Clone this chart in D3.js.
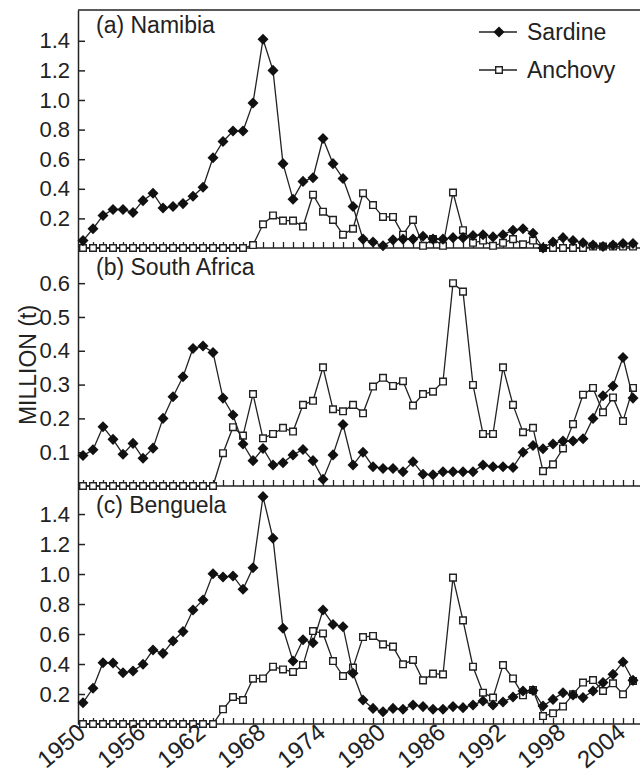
<!DOCTYPE html>
<html>
<head>
<meta charset="utf-8">
<script src="https://cdn.jsdelivr.net/npm/d3@7/dist/d3.min.js"></script>
<style>
  body { margin: 0; background: #fff; }
  text { font-family: "Liberation Sans", Arial, sans-serif; fill: #222; }
</style>
</head>
<body>
<div id="chart"></div>
<script>
// years on the x axis, one point per year
var years = d3.range(1950, 2006);
var labelYears = [1950, 1956, 1962, 1968, 1974, 1980, 1986, 1992, 1998, 2004];

// catches in million tonnes, 1950-2005
var namibiaSardine = [0.05, 0.13, 0.22, 0.26, 0.26, 0.24, 0.32, 0.37, 0.27, 0.28,
	0.30, 0.35, 0.41, 0.61, 0.72, 0.79, 0.79, 0.98, 1.41, 1.20,
	0.57, 0.33, 0.45, 0.475, 0.74, 0.57, 0.47, 0.28, 0.06, 0.04,
	0.015, 0.055, 0.06, 0.06, 0.08, 0.06, 0.06, 0.07, 0.07, 0.085,
	0.09, 0.075, 0.09, 0.12, 0.13, 0.10, 0.0, 0.04, 0.07, 0.05,
	0.035, 0.02, 0.01, 0.02, 0.03, 0.03];
var namibiaAnchovy = [0, 0, 0, 0, 0, 0, 0, 0, 0, 0,
	0, 0, 0, 0, 0, 0, 0, 0.02, 0.16, 0.22,
	0.185, 0.185, 0.145, 0.36, 0.245, 0.19, 0.09, 0.13, 0.37, 0.29,
	0.21, 0.21, 0.09, 0.19, 0.015, 0.06, 0.015, 0.375, 0.12, 0.035,
	0.05, 0.015, 0.035, 0.06, 0.025, 0.05, 0.0, 0.0, 0.0, 0.0,
	0.0, 0.01, 0.01, 0.01, 0.01, 0.01];
var southAfricaSardine = [0.09, 0.107, 0.175, 0.138, 0.094, 0.126, 0.082, 0.112, 0.20, 0.264,
	0.323, 0.407, 0.414, 0.395, 0.26, 0.21, 0.124, 0.075, 0.111, 0.062,
	0.069, 0.092, 0.108, 0.075, 0.02, 0.092, 0.182, 0.062, 0.10, 0.057,
	0.052, 0.052, 0.042, 0.072, 0.035, 0.033, 0.042, 0.042, 0.042, 0.042,
	0.062, 0.057, 0.057, 0.055, 0.10, 0.12, 0.11, 0.124, 0.133, 0.133,
	0.14, 0.20, 0.267, 0.296, 0.38, 0.26];
var southAfricaAnchovy = [0, 0, 0, 0, 0, 0, 0, 0, 0, 0,
	0, 0, 0, 0, 0.097, 0.174, 0.149, 0.272, 0.141, 0.154,
	0.172, 0.161, 0.24, 0.252, 0.351, 0.227, 0.221, 0.24, 0.215, 0.294,
	0.32, 0.296, 0.31, 0.238, 0.272, 0.279, 0.309, 0.60, 0.575, 0.299,
	0.154, 0.154, 0.351, 0.24, 0.159, 0.172, 0.044, 0.064, 0.111, 0.183,
	0.27, 0.29, 0.218, 0.262, 0.192, 0.29];
var benguelaSardine = [0.142, 0.238, 0.409, 0.407, 0.342, 0.353, 0.398, 0.493, 0.471, 0.553,
	0.616, 0.76, 0.827, 1.002, 0.98, 0.987, 0.898, 1.042, 1.516, 1.238,
	0.638, 0.42, 0.562, 0.542, 0.76, 0.664, 0.649, 0.338, 0.16, 0.104,
	0.082, 0.104, 0.098, 0.127, 0.116, 0.098, 0.098, 0.116, 0.109, 0.127,
	0.153, 0.127, 0.147, 0.18, 0.22, 0.224, 0.12, 0.164, 0.209, 0.193,
	0.176, 0.22, 0.276, 0.331, 0.413, 0.291];
var benguelaAnchovy = [0, 0, 0, 0, 0, 0, 0, 0, 0, 0,
	0, 0, 0, 0, 0.098, 0.18, 0.16, 0.302, 0.304, 0.382,
	0.364, 0.347, 0.393, 0.62, 0.604, 0.42, 0.32, 0.376, 0.58, 0.587,
	0.531, 0.516, 0.398, 0.427, 0.291, 0.336, 0.331, 0.976, 0.691, 0.382,
	0.209, 0.176, 0.393, 0.304, 0.191, 0.227, 0.053, 0.071, 0.116, 0.198,
	0.276, 0.293, 0.22, 0.271, 0.198, 0.287];

var panelTitles = ['(a) Namibia', '(b) South Africa', '(c) Benguela'];
var panelMax = [1.608, 0.704, 1.587];
var panelTicks = [[0.2, 0.4, 0.6, 0.8, 1.0, 1.2, 1.4],
	[0.1, 0.2, 0.3, 0.4, 0.5, 0.6],
	[0.2, 0.4, 0.6, 0.8, 1.0, 1.2, 1.4]];
var legendNames = ['Sardine', 'Anchovy'];

var panels = [
	{ title: panelTitles[0], sardine: namibiaSardine, anchovy: namibiaAnchovy, max: panelMax[0], ticks: panelTicks[0], titleY: 23 },
	{ title: panelTitles[1], sardine: southAfricaSardine, anchovy: southAfricaAnchovy, max: panelMax[1], ticks: panelTicks[1], titleY: 27 },
	{ title: panelTitles[2], sardine: benguelaSardine, anchovy: benguelaAnchovy, max: panelMax[2], ticks: panelTicks[2], titleY: 27 }
];

// Constants
var width = 640, height = 775;
var plotLeft = 78, plotRight = 638, plotTop = 10, panelH = 238;
var ink = '#222';

var svg = d3.select('#chart')
	.append('svg')
	.attr('width', width)
	.attr('height', height);

var x = d3.scaleLinear()
	.domain([1949.5, 2005.5])
	.range([plotLeft, plotRight]);

var diamond = d3.symbol().type(d3.symbolDiamond2).size(78);
var square = d3.symbol().type(d3.symbolSquare).size(44);

// top border
svg.append('line')
	.attr('x1', plotLeft).attr('x2', width)
	.attr('y1', plotTop).attr('y2', plotTop)
	.attr('stroke', ink).attr('stroke-width', 1.5);

panels.forEach(function (p, i) {
	var y0 = plotTop + i * panelH;
	var y = d3.scaleLinear()
		.domain([0, p.max])
		.range([y0 + panelH, y0]);

	var g = svg.append('g');

	// y axis, ticks pointing in
	var yAxis = d3.axisLeft(y)
		.tickValues(p.ticks)
		.tickFormat(d3.format('.1f'))
		.tickSizeInner(-7)
		.tickSizeOuter(0)
		.tickPadding(8);
	var ya = g.append('g')
		.attr('transform', 'translate(' + plotLeft + ',0)')
		.call(yAxis);
	ya.selectAll('text').style('font-size', '22px').attr('fill', ink);
	ya.selectAll('line, path').attr('stroke', ink).attr('stroke-width', 1.5);

	// x axis with a tick every year
	var xAxis = d3.axisBottom(x)
		.tickValues(years)
		.tickFormat('')
		.tickSizeInner(-6)
		.tickSizeOuter(0);
	var xa = g.append('g')
		.attr('transform', 'translate(0,' + (y0 + panelH) + ')')
		.call(xAxis);
	xa.select('.domain').attr('d', 'M' + plotLeft + ',0H' + width);
	xa.selectAll('line, path').attr('stroke', ink).attr('stroke-width', 1.3);

	// panel title
	g.append('text')
		.attr('x', 96)
		.attr('y', y0 + p.titleY)
		.style('font-size', '23px')
		.text(p.title);

	var line = d3.line()
		.x(function (d, k) { return x(years[k]); })
		.y(function (d) { return y(d); });

	// anchovy: open squares
	g.append('path')
		.datum(p.anchovy)
		.attr('d', line)
		.attr('fill', 'none')
		.attr('stroke', ink)
		.attr('stroke-width', 1.3);
	g.selectAll('.anc')
		.data(p.anchovy)
		.enter()
		.append('path')
		.attr('class', 'anc')
		.attr('d', square)
		.attr('transform', function (d, k) { return 'translate(' + x(years[k]) + ',' + y(d) + ')'; })
		.attr('fill', '#fff')
		.attr('stroke', ink)
		.attr('stroke-width', 1.4);

	// sardine: filled diamonds
	g.append('path')
		.datum(p.sardine)
		.attr('d', line)
		.attr('fill', 'none')
		.attr('stroke', ink)
		.attr('stroke-width', 1.3);
	g.selectAll('.sar')
		.data(p.sardine)
		.enter()
		.append('path')
		.attr('class', 'sar')
		.attr('d', diamond)
		.attr('transform', function (d, k) { return 'translate(' + x(years[k]) + ',' + y(d) + ')'; })
		.attr('fill', '#111');
});

// x labels under the last panel
svg.selectAll('.xlab')
	.data(labelYears)
	.enter()
	.append('text')
	.attr('class', 'xlab')
	.attr('text-anchor', 'end')
	.attr('transform', function (d) { return 'translate(' + (x(d) + 4) + ',' + 735 + ') rotate(-40)'; })
	.style('font-size', '24px')
	.text(function (d) { return d; });

// y title
svg.append('text')
	.attr('text-anchor', 'middle')
	.attr('transform', 'translate(36,365) rotate(-90)')
	.style('font-size', '23px')
	.text('MILLION (t)');

// legend
var legend = svg.append('g');
[32, 70].forEach(function (ly, k) {
	legend.append('line')
		.attr('x1', 479).attr('x2', 517)
		.attr('y1', ly).attr('y2', ly)
		.attr('stroke', ink).attr('stroke-width', 1.3);
	legend.append('path')
		.attr('d', k === 0 ? diamond : square)
		.attr('transform', 'translate(499,' + ly + ')')
		.attr('fill', k === 0 ? '#111' : '#fff')
		.attr('stroke', k === 0 ? 'none' : ink)
		.attr('stroke-width', 1.4);
	legend.append('text')
		.attr('x', 527)
		.attr('y', ly)
		.attr('dy', '0.36em')
		.style('font-size', '23px')
		.text(legendNames[k]);
});
</script>
</body>
</html>
